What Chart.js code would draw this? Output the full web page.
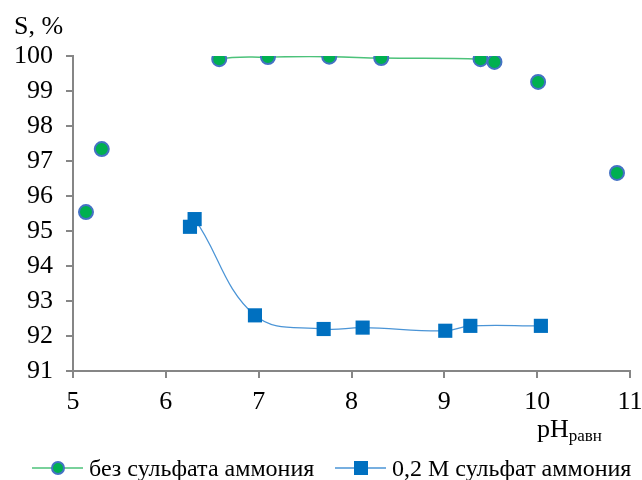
<!DOCTYPE html>
<html>
<head>
<meta charset="utf-8">
<script src="https://cdn.jsdelivr.net/npm/chart.js@4"></script>
<style>
    html, body { margin: 0; padding: 0; background: #fff; }
    #wrap { width: 642px; height: 480px; position: relative; }
</style>
</head>
<body>
<div id="wrap"><canvas id="chart"></canvas></div>
<script>
// Data
const seriesNames = ['без сульфата аммония', '0,2 M сульфат аммония'];
const phNoSulfate = [5.14, 5.31, 6.575, 7.10, 7.76, 8.32, 9.39, 9.54, 10.01, 10.86];
const sNoSulfate = [95.54, 97.34, 99.91, 99.97, 99.98, 99.94, 99.91, 99.83, 99.26, 96.66];
const phSulfate = [6.26, 6.31, 6.96, 7.70, 8.12, 9.01, 9.28, 10.04];
const sSulfate = [95.12, 95.34, 92.59, 92.20, 92.24, 92.15, 92.29, 92.29];
const xRange = [5, 11];
const yRange = [91, 100];
const yTitle = 'S, %';
const xTitle = 'pH';
const xTitleSub = 'равн';

const GREEN = '#00B050';
const GREEN_LINE = '#4CC27A';
const BLUE = '#0070C0';
const BLUE_LINE = '#4A94D6';
const RING = '#4472C4';
const AXIS = '#868686';
const FONT = "'Liberation Serif', 'Times New Roman', serif";

// first series is only joined from the 3rd to the 7th point
const joinFrom = 2, joinTo = 6;

function toPoints(xs, ys) {
    return xs.map((x, i) => ({ x: x, y: ys[i] }));
}

// axis titles and the legend (line + marker + name)
const extras = {
    id: 'extras',
    afterDraw(chart) {
        const ctx = chart.ctx;
        ctx.save();
        ctx.fillStyle = '#000';
        ctx.textBaseline = 'alphabetic';
        ctx.textAlign = 'left';

        ctx.font = '26px ' + FONT;
        ctx.fillText(yTitle, 14, 34);

        ctx.font = '26px ' + FONT;
        const w = ctx.measureText(xTitle).width;
        ctx.fillText(xTitle, 537, 437);
        ctx.font = '17px ' + FONT;
        ctx.fillText(xTitleSub, 537 + w, 441);

        // legend
        const ly = 468;
        const items = [
            { x: 32, color: GREEN_LINE, kind: 'circle' },
            { x: 335, color: BLUE_LINE, kind: 'rect' }
        ];
        ctx.font = '24px ' + FONT;
        items.forEach((it, i) => {
            ctx.strokeStyle = it.color;
            ctx.lineWidth = 1.5;
            ctx.beginPath();
            ctx.moveTo(it.x, ly);
            ctx.lineTo(it.x + 51, ly);
            ctx.stroke();
            const cx = it.x + 26;
            if (it.kind === 'circle') {
                ctx.beginPath();
                ctx.arc(cx, ly, 6, 0, Math.PI * 2);
                ctx.fillStyle = GREEN;
                ctx.fill();
                ctx.lineWidth = 2;
                ctx.strokeStyle = RING;
                ctx.stroke();
            } else {
                ctx.fillStyle = BLUE;
                ctx.fillRect(cx - 7, ly - 7, 14, 14);
            }
            ctx.fillStyle = '#000';
            ctx.fillText(seriesNames[i], it.x + 57, 476);
        });
        ctx.restore();
    }
};

new Chart(document.getElementById('chart').getContext('2d'), {
    type: 'scatter',
    data: {
        datasets: [
            {
                label: seriesNames[0],
                data: toPoints(phNoSulfate, sNoSulfate),
                showLine: true,
                tension: 0.4,
                borderWidth: 1.5,
                borderColor: GREEN_LINE,
                segment: {
                    borderColor: (ctx) => (ctx.p0DataIndex >= joinFrom && ctx.p1DataIndex <= joinTo) ? GREEN_LINE : 'rgba(0,0,0,0)'
                },
                pointStyle: 'circle',
                pointRadius: 7,
                pointBorderWidth: 2,
                pointBackgroundColor: GREEN,
                pointBorderColor: RING
            },
            {
                label: seriesNames[1],
                data: toPoints(phSulfate, sSulfate),
                showLine: true,
                tension: 0.4,
                borderWidth: 1.25,
                borderColor: BLUE_LINE,
                pointStyle: 'rect',
                pointRadius: 10,
                pointBorderWidth: 0,
                pointBackgroundColor: BLUE,
                pointBorderColor: BLUE
            }
        ]
    },
    options: {
        responsive: true,
        maintainAspectRatio: false,
        animation: false,
        layout: { padding: { left: 0, right: 0, top: 56, bottom: 0 } },
        plugins: {
            tooltip: { enabled: false },
            legend: { display: false }
        },
        scales: {
            x: {
                type: 'linear',
                min: xRange[0],
                max: xRange[1],
                ticks: { stepSize: 1, color: '#000', font: { family: FONT, size: 26 }, padding: 9 },
                grid: { drawOnChartArea: false, drawTicks: true, tickLength: 7, color: AXIS, lineWidth: 2 },
                border: { color: AXIS, width: 2 },
                afterFit: (scale) => { scale.height = 109; scale.paddingRight = 12; }
            },
            y: {
                min: yRange[0],
                max: yRange[1],
                ticks: { stepSize: 1, color: '#000', font: { family: FONT, size: 26 }, padding: 13 },
                grid: { drawOnChartArea: false, drawTicks: true, tickLength: 7, color: AXIS, lineWidth: 2 },
                border: { color: AXIS, width: 2 },
                afterFit: (scale) => { scale.width = 73; }
            }
        }
    },
    plugins: [extras]
});
</script>
</body>
</html>
